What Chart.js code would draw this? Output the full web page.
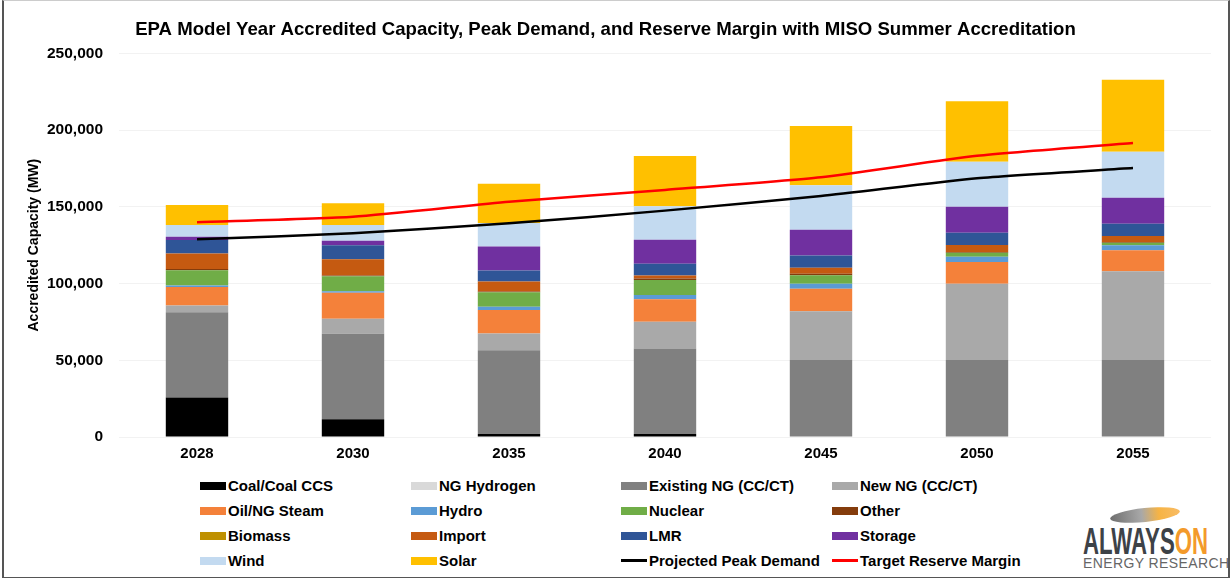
<!DOCTYPE html>
<html>
<head>
<meta charset="utf-8">
<script src="https://cdn.jsdelivr.net/npm/chart.js@4.4.1/dist/chart.umd.min.js"></script>
<style>
  body { margin: 0; background: #fff; font-family: "Liberation Sans", Arial, sans-serif; }
  #wrap { position: relative; width: 1231px; height: 578px; overflow: hidden; }
  #frame { position: absolute; left: 2px; top: 0; width: 1224px; height: 576px; border: 2px solid #555; border-top: 1px solid #ccc; pointer-events: none; }
  #chartBox { position: absolute; left: 0; top: 0; width: 1231px; height: 472px; }
  #legend { position: absolute; left: 0; top: 0; }
  .item { position: absolute; display: flex; align-items: center; font-weight: bold; font-size: 15px; color: #000; white-space: nowrap; }
  .sw { width: 26px; height: 8px; margin-right: 2px; }
  .ln { width: 26px; height: 3px; margin-right: 2px; }
  .logoBig { position: absolute; left: 1043px; top: 523px; width: 200px; text-align: center; font-weight: bold; font-size: 37px; line-height: 37px; color: #3d4247; transform: scaleX(0.6); transform-origin: 100px 0; }
  .logoBig span { color: #f39a2b; }
  .logoSmall { position: absolute; left: 1083px; top: 556px; width: 124px; text-align: center; font-size: 14px; line-height: 14px; color: #666; letter-spacing: 0.4px; white-space: nowrap; }
  #swoosh { position: absolute; left: 1110px; top: 508px; width: 70px; height: 14px; border-radius: 50%; background: linear-gradient(90deg, #555 0%, #999 45%, #f5a623 70%, #f7b04a 100%); transform: rotate(-6deg); opacity: 0.85; }
</style>
</head>
<body>
<div id="wrap">
  <div id="chartBox"><canvas id="capacityChart"></canvas></div>
  <div id="legend"></div>
  <div id="swoosh"></div>
  <div class="logoBig">ALWAYS<span>ON</span></div>
  <div class="logoSmall">ENERGY RESEARCH</div>
  <div id="frame"></div>
</div>
<script>
const years = ['2028', '2030', '2035', '2040', '2045', '2050', '2055'];

// accredited capacity by resource (MW)
const coal = [25700, 11600, 2000, 2000, 0, 0, 0];
const ngHydrogen = [0, 0, 0, 0, 0, 0, 0];
const existingNG = [55600, 55600, 54500, 55600, 50200, 50200, 50200];
const newNG = [4400, 9800, 10900, 17500, 31800, 49700, 57800];
const oilSteam = [12000, 17000, 15300, 14600, 14600, 14200, 13700];
const hydro = [1000, 900, 2200, 2800, 3300, 3300, 3300];
const nuclear = [10000, 9800, 9400, 9800, 5500, 2600, 1500];
const other = [800, 600, 500, 1000, 1000, 500, 500];
const biomass = [0, 0, 0, 0, 0, 0, 0];
const imports = [10100, 10500, 6500, 2000, 3900, 4600, 3900];
const lmr = [8700, 9200, 7200, 7600, 8000, 8000, 8000];
const storage = [2200, 2900, 15700, 15700, 16800, 17000, 17000];
const wind = [7600, 10200, 15300, 21800, 29000, 29200, 29900];
const solar = [13000, 14200, 25500, 32700, 38600, 39500, 46900];

const peakDemand = [128800, 132800, 139200, 147500, 157000, 168600, 175200];
const reserveMargin = [140000, 143500, 153300, 161000, 169300, 183200, 191600];

const yTicks = [0, 50000, 100000, 150000, 200000, 250000];

const barSeries = [
    { label: 'Coal/Coal CCS', data: coal, color: '#000000' },
    { label: 'NG Hydrogen', data: ngHydrogen, color: '#d9d9d9' },
    { label: 'Existing NG (CC/CT)', data: existingNG, color: '#808080' },
    { label: 'New NG (CC/CT)', data: newNG, color: '#a9a9a9' },
    { label: 'Oil/NG Steam', data: oilSteam, color: '#f4813a' },
    { label: 'Hydro', data: hydro, color: '#5b9bd5' },
    { label: 'Nuclear', data: nuclear, color: '#70ad47' },
    { label: 'Other', data: other, color: '#843c0c' },
    { label: 'Biomass', data: biomass, color: '#bf9000' },
    { label: 'Import', data: imports, color: '#c55a11' },
    { label: 'LMR', data: lmr, color: '#2f5597' },
    { label: 'Storage', data: storage, color: '#7030a0' },
    { label: 'Wind', data: wind, color: '#c3daf0' },
    { label: 'Solar', data: solar, color: '#ffc000' }
];
const lineSeries = [
    { label: 'Projected Peak Demand', data: peakDemand, color: '#000000' },
    { label: 'Target Reserve Margin', data: reserveMargin, color: '#ff0000' }
];

const datasets = barSeries.map(s => ({
    type: 'bar',
    label: s.label,
    data: s.data,
    backgroundColor: s.color,
    stack: 'capacity',
    order: 1,
    categoryPercentage: 1,
    barPercentage: 0.4
})).concat(lineSeries.map(s => ({
    type: 'line',
    label: s.label,
    data: s.data,
    borderColor: s.color,
    borderWidth: 2.5,
    pointRadius: 0,
    tension: 0.2,
    fill: false,
    stack: s.label,
    order: 0
})));

const ctx = document.getElementById('capacityChart').getContext('2d');
const capacityChart = new Chart(ctx, {
    data: { labels: years, datasets: datasets },
    options: {
        responsive: true,
        maintainAspectRatio: false,
        animation: false,
        layout: { padding: { left: 0, right: 20, top: 0, bottom: 9 } },
        plugins: {
            legend: { display: false },
            tooltip: { enabled: false },
            title: {
                display: true,
                text: 'EPA Model Year Accredited Capacity, Peak Demand, and Reserve Margin with MISO Summer Accreditation',
                color: '#000',
                font: { family: 'Liberation Sans', size: 18.6, weight: 'bold' },
                padding: { top: 19, bottom: 12 }
            }
        },
        scales: {
            x: {
                stacked: true,
                grid: { display: false },
                border: { display: false },
                ticks: { color: '#000', font: { family: 'Liberation Sans', size: 15, weight: 'bold' }, padding: 0 }
            },
            y: {
                stacked: true,
                min: 0,
                max: 250000,
                afterBuildTicks: axis => { axis.ticks = yTicks.map(v => ({ value: v })); },
                afterFit: axis => { axis.width = 119; },
                grid: { color: '#f2f2f2', tickLength: 0 },
                border: { display: false },
                ticks: {
                    color: '#000',
                    padding: 16,
                    font: { family: 'Liberation Sans', size: 15.5, weight: 'bold' },
                    callback: v => v.toLocaleString('en-US')
                },
                title: {
                    display: true,
                    text: 'Accredited Capacity (MW)',
                    color: '#000',
                    font: { family: 'Liberation Sans', size: 14, weight: 'bold' },
                    padding: { top: 26, bottom: 0 }
                }
            }
        }
    }
});

// legend in a 4-column grid, the way the original lays it out
const colX = [200, 411, 621, 832];
const rowY = [486, 511, 536, 561];
const legendBox = document.getElementById('legend');
const allSeries = barSeries.map(s => ({ label: s.label, color: s.color, kind: 'sw' }))
    .concat(lineSeries.map(s => ({ label: s.label, color: s.color, kind: 'ln' })));
allSeries.forEach((s, i) => {
    const el = document.createElement('div');
    el.className = 'item';
    el.style.left = colX[i % 4] + 'px';
    el.style.top = (rowY[Math.floor(i / 4)] - 9) + 'px';
    el.innerHTML = '<div class="' + s.kind + '" style="background:' + s.color + '"></div>' + s.label;
    legendBox.appendChild(el);
});
</script>
</body>
</html>
